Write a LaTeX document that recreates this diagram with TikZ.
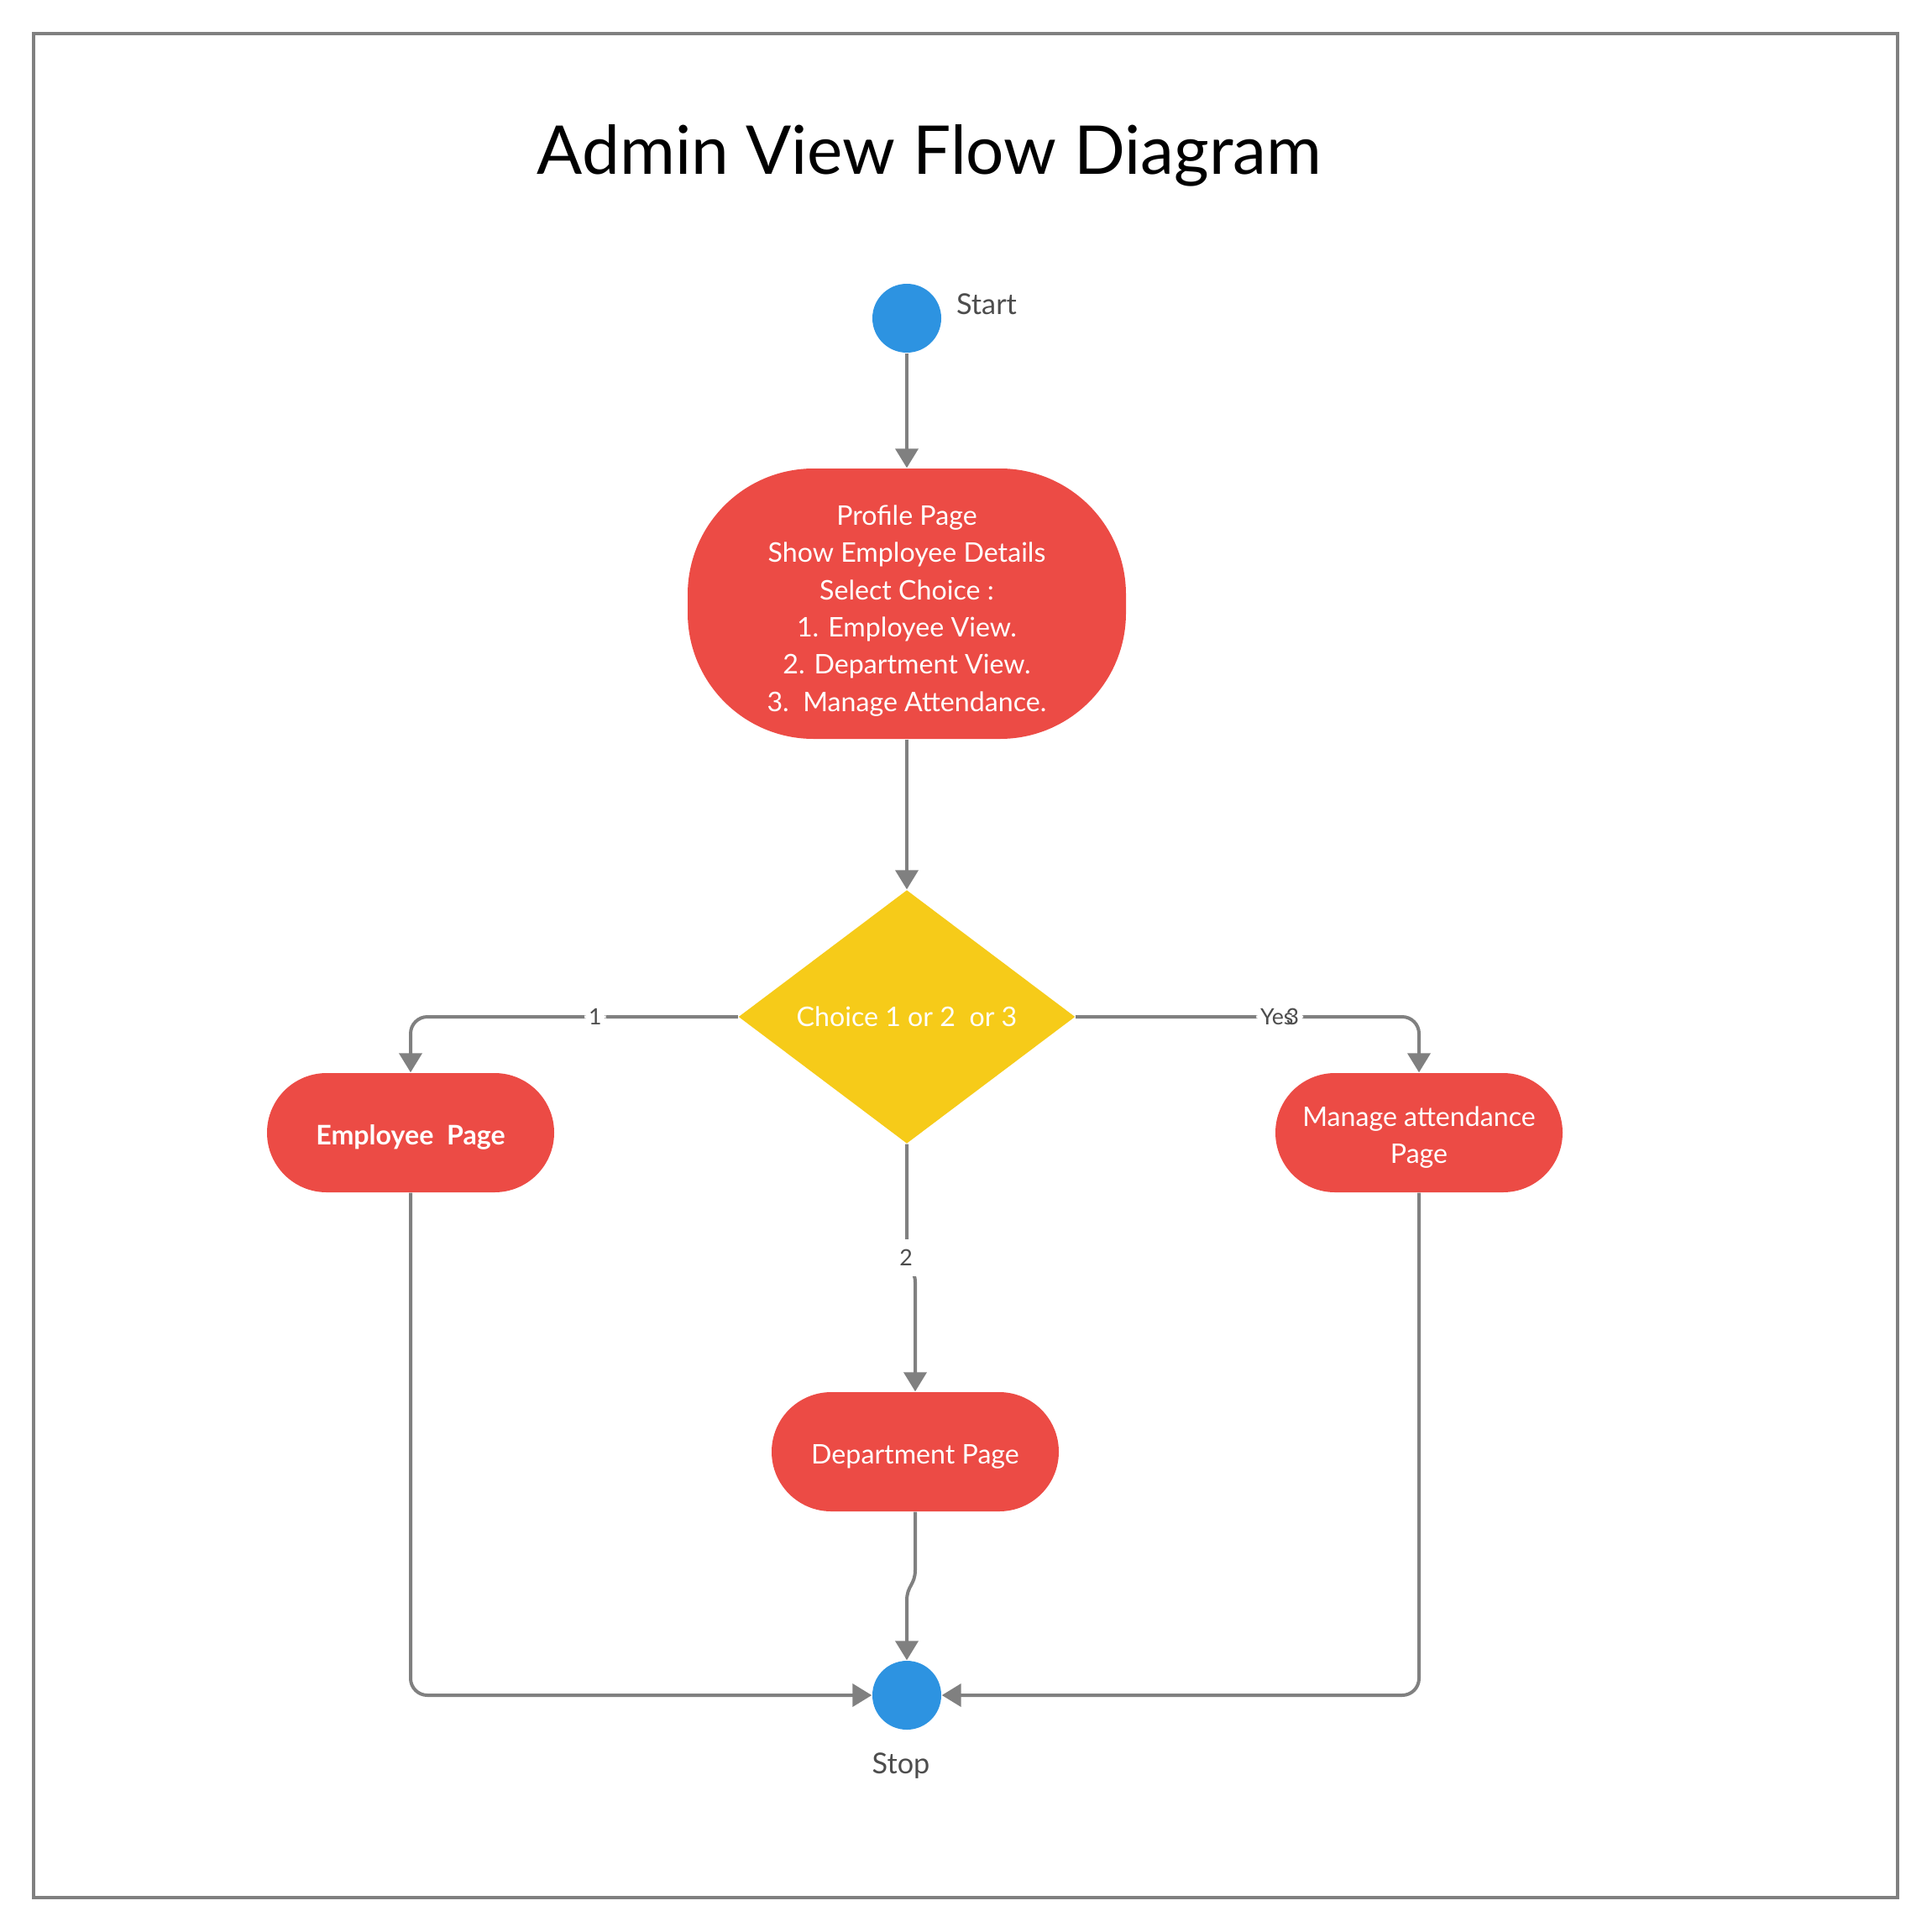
\documentclass[tikz,border=0pt]{standalone}
\usepackage{fontspec}
\setmainfont{Lato}
\usetikzlibrary{arrows.meta,shapes.geometric,calc}
\definecolor{redbox}{RGB}{236,75,69}
\definecolor{bluedot}{RGB}{45,147,225}
\definecolor{yellowdia}{RGB}{246,203,25}
\definecolor{linegray}{RGB}{128,128,128}
\definecolor{labelgray}{RGB}{77,77,77}
\tikzset{
  pagebox/.style={rectangle, fill=redbox, minimum width=3.42cm, minimum height=1.42cm,
    rounded corners=0.71cm, inner sep=0pt},
  boxtext/.style={text=white, align=center, inner sep=0pt, yshift=-0.055cm,
    font=\fontsize{9.15}{12.5}\selectfont},
  dotnode/.style={circle, fill=bluedot, minimum size=0.82cm, inner sep=0pt},
  conn/.style={draw=linegray, line width=0.04cm, -{Triangle[width=0.27cm,length=0.23cm]}},
  elabel/.style={fill=white, text=labelgray, inner sep=0.05cm, font=\fontsize{7.6}{9}\selectfont},
  sidelabel/.style={text=labelgray, font=\fontsize{9.75}{11}\selectfont},
}
\begin{document}
\begin{tikzpicture}
\useasboundingbox (0,0) rectangle (23.01,-23.01);
\draw[linegray, line width=0.04cm] (0.40,-0.40) rectangle (22.60,-22.60);
\node[anchor=base, font=\fontsize{22.8}{26}\selectfont] (title) at (11.07,-2.08) {Admin View Flow Diagram};

\node[dotnode] (start) at (10.80,-3.79) {};
\node[sidelabel] (startlbl) at (11.75,-3.62) {Start};

\node[rectangle, fill=redbox, minimum width=5.22cm, minimum height=3.22cm,
  rounded corners=1.5cm, inner sep=0pt,
  label={[boxtext, yshift=-0.03cm, font=\fontsize{9.15}{12.6}\selectfont]center:{Profile Page\\Show Employee Details\\Select Choice :\\1. Employee View.\\2. Department View.\\3.\ \ Manage Attendance.}}]
  (profile) at (10.80,-7.19) {};

\node[diamond, fill=yellowdia, text=white, minimum width=4.01cm, minimum height=3.02cm,
  inner sep=0pt, font=\fontsize{9.15}{11}\selectfont] (dia) at (10.80,-12.11) {Choice 1 or 2\ \ or 3};

\node[pagebox, label={[boxtext, font=\bfseries\fontsize{9.15}{12.5}\selectfont]center:{Employee\ \ Page}}] (emp) at (4.89,-13.49) {};
\node[pagebox, label={[boxtext]center:{Manage attendance\\Page}}] (man) at (16.90,-13.49) {};
\node[pagebox, label={[boxtext]center:{Department Page}}] (dep) at (10.90,-17.29) {};

\node[dotnode] (stop) at (10.80,-20.19) {};
\node[sidelabel] (stoplbl) at (10.73,-21.03) {Stop};

\draw[conn] (start) -- (profile);
\draw[conn] (profile) -- (dia);
\draw[conn, rounded corners=0.2cm] (dia.west) -| node[elabel, pos=0.218] {1} (emp.north);
\draw[conn, rounded corners=0.2cm] (dia.east) -| node[elabel, pos=0.297] {Yes\kern-0.09cm 3} (man.north);
\draw[conn] (dia.south) -- ++(0,-1.36) coordinate (b2)
  .. controls +(0,-0.18) and +(0,0.16) .. ($(dep.north)+(0,1.30)$) -- (dep.north);
\node[elabel, inner ysep=0.12cm] (lbl2) at (10.79,-14.98) {2};
\draw[conn] (dep.south) -- ++(0,-0.69)
  .. controls +(0,-0.18) and +(0,0.18) .. ($(stop.north)+(0,0.71)$) -- (stop.north);
\draw[conn, rounded corners=0.2cm] (emp.south) |- (stop.west);
\draw[conn, rounded corners=0.2cm] (man.south) |- (stop.east);
\end{tikzpicture}
\end{document}
